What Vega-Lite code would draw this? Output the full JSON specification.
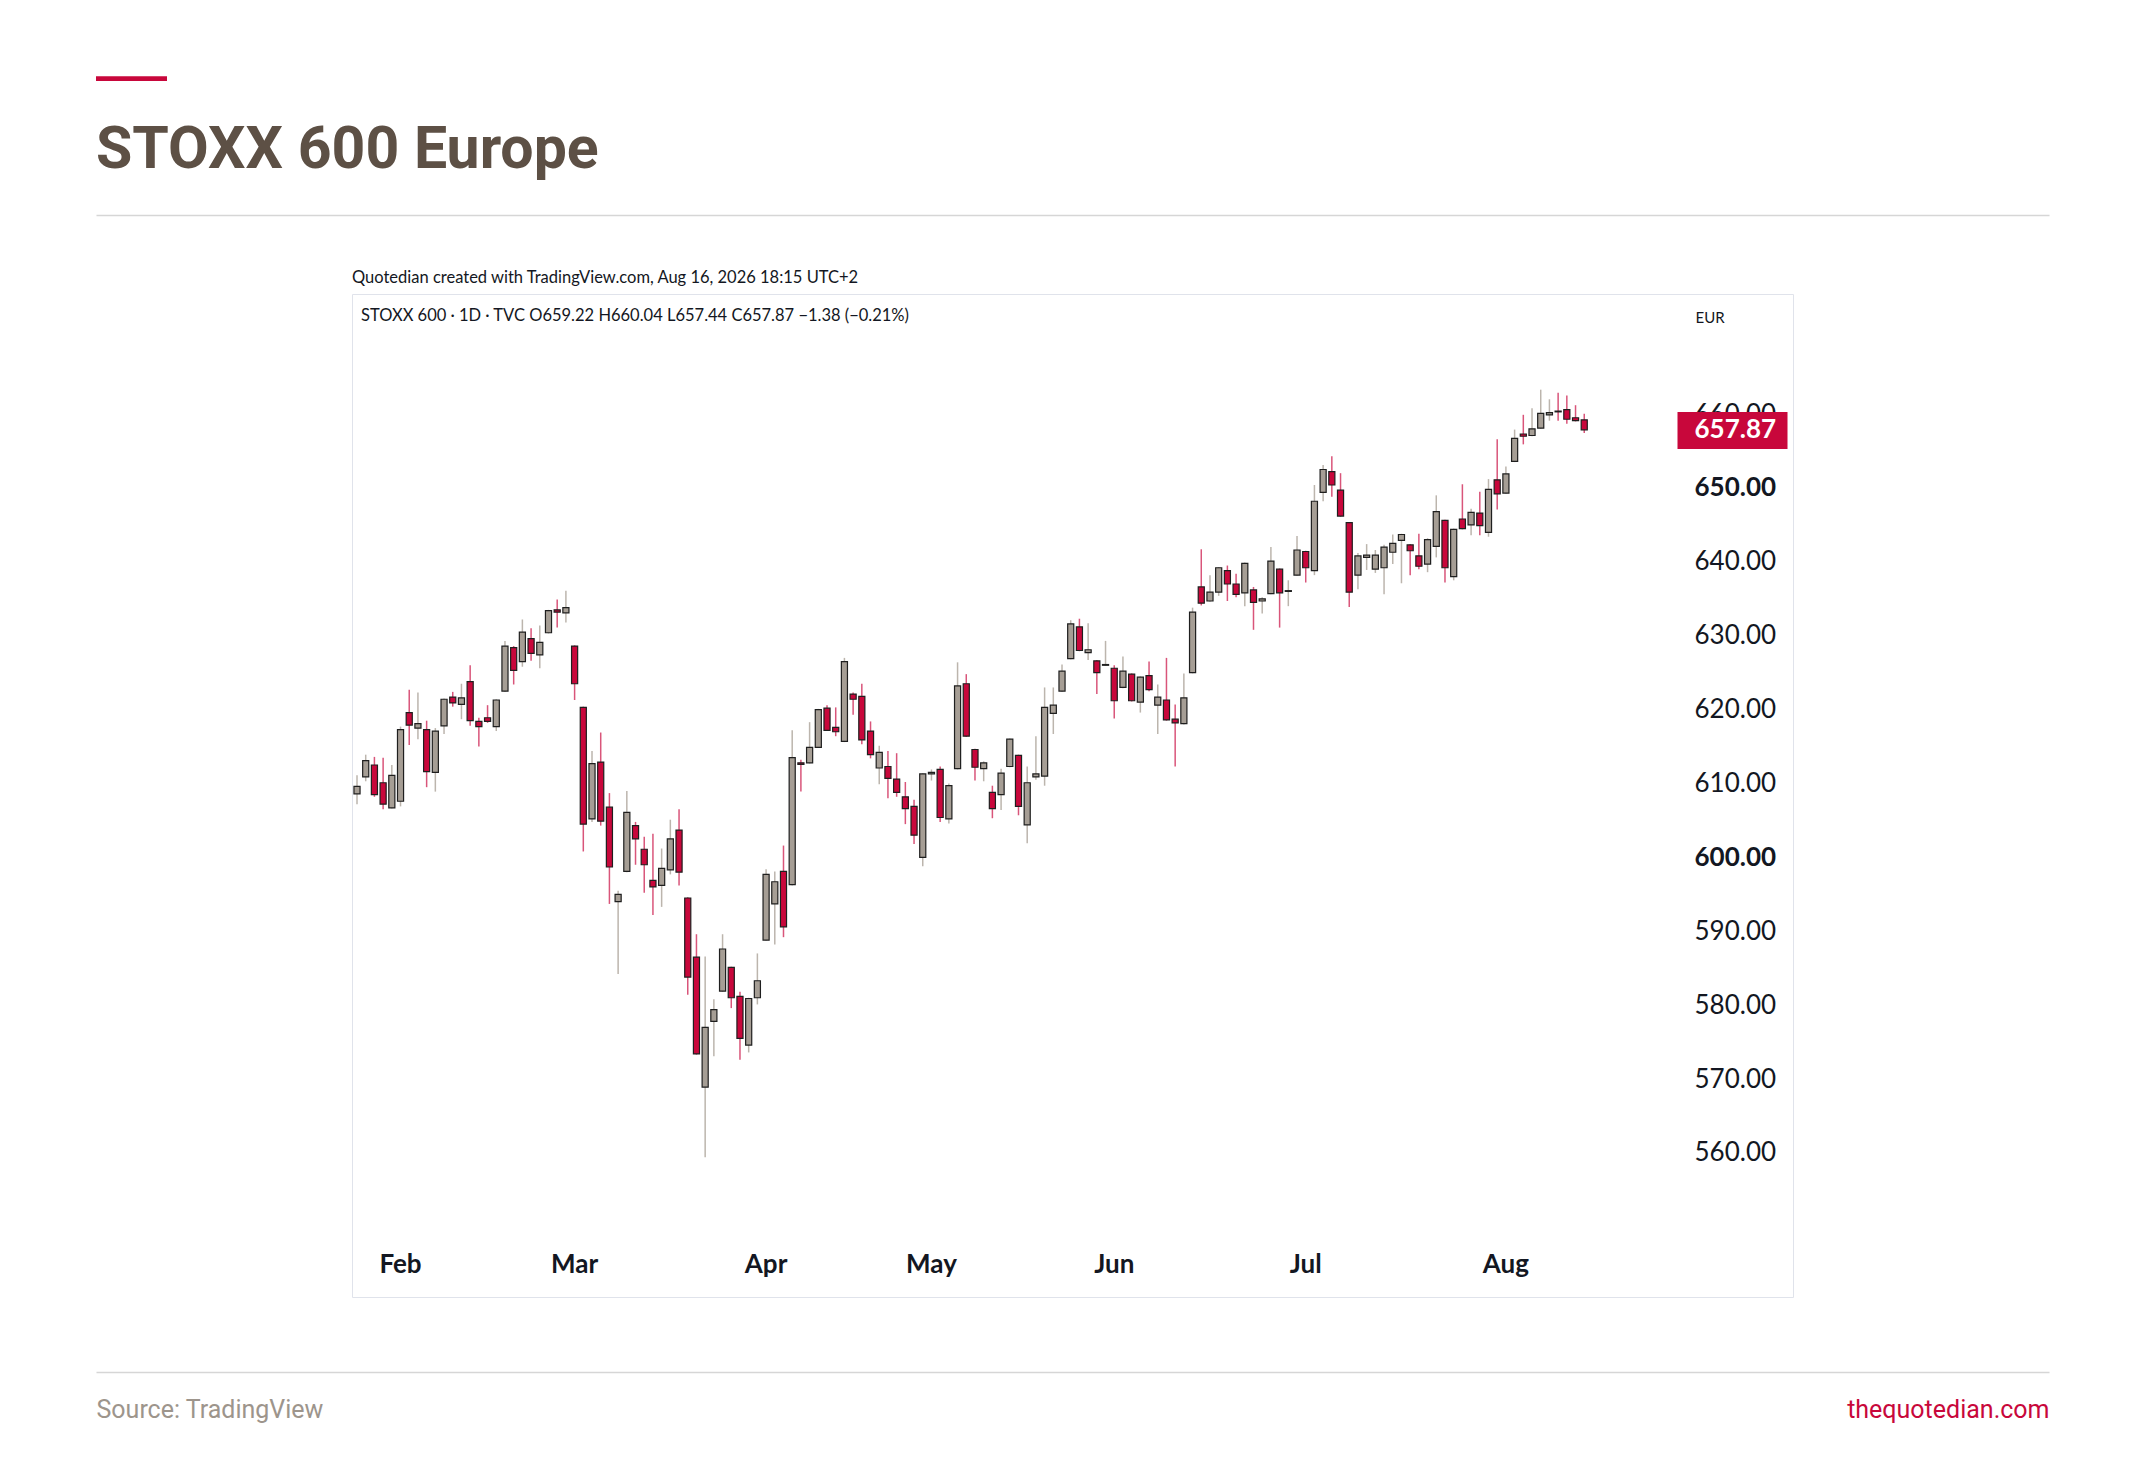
{
"$schema": "https://vega.github.io/schema/vega-lite/v6.json",
"width": 1441,
"height": 1003,
"autosize": {"type": "none"},
"padding": {"left": 352, "top": 294, "right": 352, "bottom": 161},
"background": "white",
"config": {"view": {"stroke": "#e0e3eb", "strokeWidth": 1}, "font": "Lato"},
"title": {"text": "—", "subtitle": "STOXX 600 Europe", "anchor": "start", "frame": "group", "dx": -256, "offset": 34, "font": "Liberation Sans", "fontSize": 71, "fontWeight": "normal", "color": "#c8073b", "subtitleFont": "Roboto", "subtitleFontSize": 59, "subtitleFontWeight": "bold", "subtitleColor": "#5d5045", "subtitlePadding": 9},
"data": {"values": [
{"date":"2026-01-26","open":608.6,"high":611.1,"low":607.2,"close":609.6},
{"date":"2026-01-27","open":610.9,"high":613.9,"low":610.3,"close":613.1},
{"date":"2026-01-28","open":612.5,"high":613.6,"low":608.2,"close":608.5},
{"date":"2026-01-29","open":610.1,"high":613.5,"low":606.5,"close":607.2},
{"date":"2026-01-30","open":606.7,"high":612.5,"low":606.6,"close":611.1},
{"date":"2026-02-02","open":607.6,"high":617.7,"low":606.9,"close":617.3},
{"date":"2026-02-03","open":619.6,"high":622.7,"low":615.2,"close":617.9},
{"date":"2026-02-04","open":617.5,"high":622.3,"low":616.0,"close":618.1},
{"date":"2026-02-05","open":617.3,"high":618.5,"low":609.5,"close":611.6},
{"date":"2026-02-06","open":611.5,"high":617.5,"low":608.9,"close":617.1},
{"date":"2026-02-09","open":617.8,"high":621.5,"low":616.7,"close":621.4},
{"date":"2026-02-10","open":621.7,"high":622.4,"low":620.4,"close":620.9},
{"date":"2026-02-11","open":620.7,"high":623.5,"low":618.7,"close":621.6},
{"date":"2026-02-12","open":623.8,"high":626.0,"low":617.8,"close":618.5},
{"date":"2026-02-13","open":618.4,"high":618.9,"low":615.0,"close":617.7},
{"date":"2026-02-16","open":618.9,"high":620.6,"low":618.2,"close":618.4},
{"date":"2026-02-17","open":617.7,"high":621.4,"low":617.1,"close":621.3},
{"date":"2026-02-18","open":622.5,"high":629.3,"low":622.4,"close":628.6},
{"date":"2026-02-19","open":628.4,"high":628.6,"low":623.4,"close":625.3},
{"date":"2026-02-20","open":626.5,"high":632.2,"low":625.8,"close":630.5},
{"date":"2026-02-23","open":629.6,"high":631.0,"low":626.6,"close":627.6},
{"date":"2026-02-24","open":627.4,"high":631.4,"low":625.6,"close":629.1},
{"date":"2026-02-25","open":630.4,"high":633.5,"low":630.3,"close":633.4},
{"date":"2026-02-26","open":633.5,"high":634.9,"low":631.1,"close":633.2},
{"date":"2026-02-27","open":633.1,"high":636.1,"low":631.8,"close":633.8},
{"date":"2026-03-02","open":628.6,"high":628.7,"low":621.3,"close":623.5},
{"date":"2026-03-03","open":620.3,"high":620.4,"low":600.8,"close":604.5},
{"date":"2026-03-04","open":605.2,"high":614.4,"low":604.8,"close":612.7},
{"date":"2026-03-05","open":612.9,"high":616.9,"low":604.3,"close":604.9},
{"date":"2026-03-06","open":606.8,"high":608.7,"low":593.7,"close":598.7},
{"date":"2026-03-09","open":594.0,"high":595.5,"low":584.2,"close":595.0},
{"date":"2026-03-10","open":598.1,"high":609.0,"low":598.0,"close":606.1},
{"date":"2026-03-11","open":604.3,"high":604.8,"low":599.0,"close":602.5},
{"date":"2026-03-12","open":601.1,"high":602.8,"low":595.2,"close":599.0},
{"date":"2026-03-13","open":596.9,"high":603.2,"low":592.2,"close":596.0},
{"date":"2026-03-16","open":596.2,"high":601.2,"low":593.3,"close":598.5},
{"date":"2026-03-17","open":598.3,"high":605.1,"low":597.7,"close":602.5},
{"date":"2026-03-18","open":603.7,"high":606.5,"low":596.2,"close":598.0},
{"date":"2026-03-19","open":594.5,"high":594.6,"low":581.4,"close":583.8},
{"date":"2026-03-20","open":586.5,"high":589.6,"low":573.3,"close":573.4},
{"date":"2026-03-23","open":568.9,"high":586.6,"low":559.4,"close":577.0},
{"date":"2026-03-24","open":577.8,"high":580.8,"low":573.1,"close":579.4},
{"date":"2026-03-25","open":581.9,"high":589.6,"low":581.8,"close":587.6},
{"date":"2026-03-26","open":585.1,"high":585.2,"low":579.6,"close":581.0},
{"date":"2026-03-27","open":581.2,"high":581.8,"low":572.6,"close":575.5},
{"date":"2026-03-30","open":574.6,"high":581.0,"low":573.6,"close":580.9},
{"date":"2026-03-31","open":581.0,"high":587.0,"low":580.1,"close":583.3},
{"date":"2026-04-01","open":588.8,"high":598.4,"low":588.7,"close":597.7},
{"date":"2026-04-02","open":593.7,"high":598.1,"low":588.2,"close":596.7},
{"date":"2026-04-07","open":598.1,"high":601.6,"low":589.2,"close":590.6},
{"date":"2026-04-08","open":596.3,"high":617.2,"low":596.2,"close":613.5},
{"date":"2026-04-09","open":612.8,"high":613.2,"low":608.9,"close":612.6},
{"date":"2026-04-10","open":612.8,"high":618.3,"low":612.7,"close":614.9},
{"date":"2026-04-13","open":614.9,"high":620.1,"low":614.8,"close":620.0},
{"date":"2026-04-14","open":620.2,"high":620.6,"low":617.1,"close":617.2},
{"date":"2026-04-15","open":617.6,"high":620.3,"low":616.4,"close":617.0},
{"date":"2026-04-16","open":615.7,"high":627.0,"low":615.6,"close":626.5},
{"date":"2026-04-17","open":622.1,"high":622.3,"low":619.3,"close":621.4},
{"date":"2026-04-20","open":621.8,"high":623.5,"low":615.3,"close":615.9},
{"date":"2026-04-21","open":617.1,"high":618.4,"low":613.4,"close":613.9},
{"date":"2026-04-22","open":612.1,"high":615.1,"low":609.9,"close":614.2},
{"date":"2026-04-23","open":612.3,"high":614.4,"low":608.0,"close":610.7},
{"date":"2026-04-24","open":610.6,"high":614.1,"low":608.2,"close":608.8},
{"date":"2026-04-27","open":608.2,"high":610.2,"low":604.5,"close":606.6},
{"date":"2026-04-28","open":606.9,"high":607.8,"low":601.8,"close":603.0},
{"date":"2026-04-29","open":600.0,"high":611.4,"low":598.8,"close":611.3},
{"date":"2026-05-01","open":611.3,"high":611.9,"low":610.4,"close":611.5},
{"date":"2026-05-04","open":611.9,"high":612.3,"low":604.8,"close":605.4},
{"date":"2026-05-05","open":605.2,"high":610.0,"low":604.6,"close":609.7},
{"date":"2026-05-06","open":612.0,"high":626.4,"low":611.9,"close":623.2},
{"date":"2026-05-07","open":623.5,"high":624.8,"low":616.3,"close":616.4},
{"date":"2026-05-08","open":614.6,"high":614.7,"low":610.4,"close":612.2},
{"date":"2026-05-11","open":612.0,"high":613.0,"low":610.3,"close":612.8},
{"date":"2026-05-12","open":608.8,"high":609.7,"low":605.3,"close":606.6},
{"date":"2026-05-13","open":608.5,"high":612.0,"low":606.4,"close":611.4},
{"date":"2026-05-14","open":612.3,"high":616.1,"low":612.2,"close":616.0},
{"date":"2026-05-15","open":613.8,"high":613.9,"low":605.7,"close":606.9},
{"date":"2026-05-18","open":604.4,"high":612.3,"low":601.9,"close":610.1},
{"date":"2026-05-19","open":610.9,"high":616.4,"low":610.5,"close":611.3},
{"date":"2026-05-20","open":611.0,"high":623.0,"low":609.7,"close":620.3},
{"date":"2026-05-21","open":619.5,"high":623.0,"low":616.7,"close":620.6},
{"date":"2026-05-22","open":622.5,"high":626.1,"low":622.4,"close":625.2},
{"date":"2026-05-25","open":626.9,"high":632.1,"low":626.8,"close":631.6},
{"date":"2026-05-26","open":631.2,"high":632.3,"low":627.9,"close":628.0},
{"date":"2026-05-27","open":627.7,"high":631.7,"low":626.7,"close":628.1},
{"date":"2026-05-28","open":626.6,"high":626.7,"low":622.1,"close":625.0},
{"date":"2026-05-29","open":626.0,"high":629.3,"low":625.9,"close":626.1},
{"date":"2026-06-01","open":625.6,"high":626.0,"low":618.8,"close":621.2},
{"date":"2026-06-02","open":623.0,"high":627.2,"low":622.9,"close":625.2},
{"date":"2026-06-03","open":624.8,"high":624.9,"low":621.1,"close":621.2},
{"date":"2026-06-04","open":621.0,"high":624.5,"low":619.6,"close":624.4},
{"date":"2026-06-05","open":624.6,"high":626.5,"low":622.5,"close":622.7},
{"date":"2026-06-08","open":620.6,"high":623.4,"low":616.7,"close":621.7},
{"date":"2026-06-09","open":621.3,"high":627.0,"low":618.5,"close":618.6},
{"date":"2026-06-10","open":618.7,"high":620.7,"low":612.3,"close":618.2},
{"date":"2026-06-11","open":618.1,"high":624.9,"low":618.0,"close":621.6},
{"date":"2026-06-12","open":625.0,"high":633.8,"low":624.9,"close":633.2},
{"date":"2026-06-15","open":636.6,"high":641.7,"low":634.1,"close":634.4},
{"date":"2026-06-16","open":634.7,"high":638.2,"low":634.6,"close":635.9},
{"date":"2026-06-17","open":635.9,"high":639.3,"low":635.4,"close":639.2},
{"date":"2026-06-18","open":638.8,"high":639.5,"low":634.7,"close":637.0},
{"date":"2026-06-19","open":637.0,"high":638.4,"low":635.2,"close":635.6},
{"date":"2026-06-22","open":635.8,"high":639.9,"low":634.0,"close":639.8},
{"date":"2026-06-23","open":636.2,"high":636.6,"low":630.8,"close":634.5},
{"date":"2026-06-24","open":634.7,"high":635.2,"low":633.0,"close":635.0},
{"date":"2026-06-25","open":635.7,"high":642.0,"low":635.6,"close":640.1},
{"date":"2026-06-26","open":639.0,"high":639.1,"low":631.1,"close":635.8},
{"date":"2026-06-29","open":636.0,"high":637.5,"low":634.0,"close":636.1},
{"date":"2026-06-30","open":638.2,"high":643.5,"low":638.1,"close":641.6},
{"date":"2026-07-01","open":641.4,"high":641.5,"low":637.2,"close":639.2},
{"date":"2026-07-02","open":638.8,"high":650.4,"low":638.2,"close":648.2},
{"date":"2026-07-03","open":649.4,"high":653.1,"low":648.2,"close":652.5},
{"date":"2026-07-06","open":652.2,"high":654.3,"low":648.8,"close":650.4},
{"date":"2026-07-07","open":649.7,"high":652.0,"low":646.1,"close":646.2},
{"date":"2026-07-08","open":645.3,"high":645.4,"low":633.9,"close":635.9},
{"date":"2026-07-09","open":638.2,"high":641.2,"low":636.3,"close":640.8},
{"date":"2026-07-10","open":640.6,"high":642.4,"low":638.9,"close":640.9},
{"date":"2026-07-13","open":639.0,"high":641.6,"low":638.5,"close":640.9},
{"date":"2026-07-14","open":639.2,"high":642.3,"low":635.6,"close":642.0},
{"date":"2026-07-15","open":641.3,"high":643.7,"low":639.7,"close":642.5},
{"date":"2026-07-16","open":642.9,"high":643.8,"low":637.1,"close":643.7},
{"date":"2026-07-17","open":642.3,"high":642.4,"low":638.2,"close":641.5},
{"date":"2026-07-20","open":640.8,"high":643.8,"low":639.0,"close":639.4},
{"date":"2026-07-21","open":639.7,"high":643.2,"low":638.6,"close":643.0},
{"date":"2026-07-22","open":642.1,"high":649.0,"low":640.6,"close":646.8},
{"date":"2026-07-23","open":645.6,"high":645.7,"low":637.2,"close":639.2},
{"date":"2026-07-24","open":638.0,"high":644.5,"low":637.5,"close":644.4},
{"date":"2026-07-27","open":645.8,"high":650.5,"low":644.4,"close":644.5},
{"date":"2026-07-28","open":645.0,"high":647.2,"low":643.6,"close":646.7},
{"date":"2026-07-29","open":646.6,"high":649.5,"low":643.6,"close":644.9},
{"date":"2026-07-30","open":644.0,"high":651.2,"low":643.4,"close":649.8},
{"date":"2026-07-31","open":651.1,"high":656.6,"low":647.1,"close":649.2},
{"date":"2026-08-03","open":649.3,"high":652.9,"low":649.2,"close":651.9},
{"date":"2026-08-04","open":653.6,"high":657.9,"low":653.5,"close":656.7},
{"date":"2026-08-05","open":657.3,"high":659.9,"low":655.9,"close":657.0},
{"date":"2026-08-06","open":657.1,"high":660.8,"low":657.0,"close":658.0},
{"date":"2026-08-07","open":658.1,"high":663.3,"low":658.0,"close":660.1},
{"date":"2026-08-10","open":659.9,"high":662.0,"low":659.1,"close":660.2},
{"date":"2026-08-11","open":660.4,"high":662.9,"low":659.1,"close":660.3},
{"date":"2026-08-12","open":660.6,"high":662.5,"low":658.7,"close":659.3},
{"date":"2026-08-13","open":659.5,"high":661.2,"low":659.0,"close":659.1},
{"date":"2026-08-14","open":659.22,"high":660.04,"low":657.44,"close":657.87}
]},
"layer": [
{
"layer": [
{
"mark": {"type": "rule", "strokeWidth": 1.5},
"encoding": {
"x": {"field": "date", "type": "ordinal", "axis": null,
"scale": {"type": "band", "paddingInner": 0.3, "paddingOuter": 0.43, "align": 0.262,
"domain": ["2026-01-26","2026-01-27","2026-01-28","2026-01-29","2026-01-30","2026-02-02","2026-02-03","2026-02-04","2026-02-05","2026-02-06","2026-02-09","2026-02-10","2026-02-11","2026-02-12","2026-02-13","2026-02-16","2026-02-17","2026-02-18","2026-02-19","2026-02-20","2026-02-23","2026-02-24","2026-02-25","2026-02-26","2026-02-27","2026-03-02","2026-03-03","2026-03-04","2026-03-05","2026-03-06","2026-03-09","2026-03-10","2026-03-11","2026-03-12","2026-03-13","2026-03-16","2026-03-17","2026-03-18","2026-03-19","2026-03-20","2026-03-23","2026-03-24","2026-03-25","2026-03-26","2026-03-27","2026-03-30","2026-03-31","2026-04-01","2026-04-02","2026-04-07","2026-04-08","2026-04-09","2026-04-10","2026-04-13","2026-04-14","2026-04-15","2026-04-16","2026-04-17","2026-04-20","2026-04-21","2026-04-22","2026-04-23","2026-04-24","2026-04-27","2026-04-28","2026-04-29","2026-05-01","2026-05-04","2026-05-05","2026-05-06","2026-05-07","2026-05-08","2026-05-11","2026-05-12","2026-05-13","2026-05-14","2026-05-15","2026-05-18","2026-05-19","2026-05-20","2026-05-21","2026-05-22","2026-05-25","2026-05-26","2026-05-27","2026-05-28","2026-05-29","2026-06-01","2026-06-02","2026-06-03","2026-06-04","2026-06-05","2026-06-08","2026-06-09","2026-06-10","2026-06-11","2026-06-12","2026-06-15","2026-06-16","2026-06-17","2026-06-18","2026-06-19","2026-06-22","2026-06-23","2026-06-24","2026-06-25","2026-06-26","2026-06-29","2026-06-30","2026-07-01","2026-07-02","2026-07-03","2026-07-06","2026-07-07","2026-07-08","2026-07-09","2026-07-10","2026-07-13","2026-07-14","2026-07-15","2026-07-16","2026-07-17","2026-07-20","2026-07-21","2026-07-22","2026-07-23","2026-07-24","2026-07-27","2026-07-28","2026-07-29","2026-07-30","2026-07-31","2026-08-03","2026-08-04","2026-08-05","2026-08-06","2026-08-07","2026-08-10","2026-08-11","2026-08-12","2026-08-13","2026-08-14","2026-08-17","2026-08-18","2026-08-19","2026-08-20","2026-08-21","2026-08-24","2026-08-25","2026-08-26","2026-08-27","2026-08-28","2026-08-31","2026-09-01","2026-09-02","2026-09-03","2026-09-04","2026-09-07","2026-09-08","2026-09-09","2026-09-10","2026-09-11","2026-09-14","2026-09-15","2026-09-16"]}},
"y": {"field": "low", "type": "quantitative", "scale": {"domain": [540.5, 676.25], "zero": false, "nice": false},
"axis": {"orient": "left", "domain": false, "ticks": false, "labels": false, "grid": false,
"title": "thequotedian.com", "titleX": 1697, "titleY": 1115, "titleAngle": 0, "titleAlign": "right", "titleBaseline": "middle", "titleFont": "Roboto", "titleFontSize": 25, "titleFontWeight": "normal", "titleColor": "#c8073b"}},
"y2": {"field": "high"},
"color": {"condition": {"test": "datum.close < datum.open", "value": "#d9557a"}, "value": "#bcb5ad"}
}
},
{
"data": {"values": []},
"mark": {"type": "rule"},
"encoding": {
"y": {"field": "low", "type": "quantitative",
"axis": {"orient": "right", "offset": -116, "domain": false, "grid": false, "ticks": false, "tickSize": 0,
"values": [660], "labelPadding": 17, "labelAlign": "left", "labelBaseline": "middle", "labelOverlap": false, "labelFlush": false,
"labelExpr": "format(datum.value, '.2f')", "labelFont": "Lato", "labelFontSize": 26, "labelColor": "#131722", "title": null}}
}
},
{
"mark": {"type": "bar", "stroke": "#1f1f1f", "strokeWidth": 1.2},
"encoding": {
"x": {"field": "date", "type": "ordinal",
"axis": {"orient": "bottom", "offset": 75, "domain": false, "ticks": false, "tickSize": 0, "grid": false,
"labelPadding": -108, "labelBaseline": "middle", "labelAngle": 0, "labelFont": "Lato", "labelFontSize": 26, "labelFontWeight": "bold", "labelColor": "#131722", "labelOverlap": false,
"labelExpr": "indexof(['2026-02-02','2026-03-02','2026-04-01','2026-05-01','2026-06-01','2026-07-01','2026-08-03'], datum.value) >= 0 ? ['Jan','Feb','Mar','Apr','May','Jun','Jul','Aug','Sep','Oct','Nov','Dec'][toNumber(substring(datum.value, 5, 7)) - 1] : ''",
"title": "Source: TradingView", "titleX": -256, "titleY": 37, "titleAlign": "left", "titleAnchor": "start", "titleBaseline": "middle", "titleAngle": 0, "titleFont": "Roboto", "titleFontSize": 25, "titleFontWeight": "normal", "titleColor": "#9d958c"}},
"y": {"field": "open", "type": "quantitative",
"axis": {"orient": "right", "offset": -116, "domain": false, "grid": false,
"values": [560, 570, 580, 590, 600, 610, 620, 630, 640, 650, 657.87],
"ticks": true, "tickSize": 110,
"tickWidth": {"condition": {"test": "datum.value > 657 && datum.value < 658", "value": 37}, "value": 0},
"tickColor": "#c8073b",
"labelPadding": -93, "labelAlign": "left", "labelBaseline": "middle", "labelOverlap": false, "labelFlush": false,
"labelExpr": "format(datum.value, '.2f')",
"labelFont": "Lato", "labelFontSize": 26,
"labelFontWeight": {"condition": {"test": "datum.value == 650 || datum.value == 600 || (datum.value > 657 && datum.value < 658)", "value": "bold"}, "value": "normal"},
"labelColor": {"condition": {"test": "datum.value > 657 && datum.value < 658", "value": "#ffffff"}, "value": "#131722"},
"title": "EUR", "titleX": 18, "titleY": 23, "titleAngle": 0, "titleAlign": "left", "titleBaseline": "middle", "titleFont": "Lato", "titleFontSize": 15, "titleFontWeight": "normal", "titleColor": "#131722"}},
"y2": {"field": "close"},
"fill": {"condition": {"test": "datum.close < datum.open", "value": "#c8073b"}, "value": "#a69e95"}
}
}
],
"resolve": {"axis": {"x": "independent", "y": "independent"}}
},
{
"data": {"values": [{"label": "Quotedian created with TradingView.com, Aug 16, 2026 18:15 UTC+2"}]},
"mark": {"type": "text", "align": "left", "baseline": "middle", "fontSize": 16.5, "font": "Lato", "color": "#131722"},
"encoding": {
"x": {"datum": 0.13108, "type": "quantitative", "scale": {"domain": [0, 1], "range": [-256, 1697]},
"axis": {"orient": "top", "offset": 79, "domain": true, "domainColor": "#d6d6d6", "domainWidth": 1.5, "ticks": false, "labels": false, "grid": false, "title": null}},
"y": {"datum": 678.42, "type": "quantitative", "axis": null},
"text": {"field": "label"}
}
},
{
"data": {"values": [{"label": "STOXX 600 · 1D · TVC  O659.22  H660.04  L657.44  C657.87  −1.38 (−0.21%)"}]},
"mark": {"type": "text", "align": "left", "baseline": "middle", "fontSize": 16.5, "font": "Lato", "color": "#131722"},
"encoding": {
"x": {"datum": 0.13569, "type": "quantitative", "scale": {"domain": [0, 1], "range": [-256, 1697]},
"axis": {"orient": "bottom", "offset": 75, "domain": true, "domainColor": "#d6d6d6", "domainWidth": 1.5, "ticks": false, "labels": false, "grid": false, "title": null}},
"y": {"datum": 673.27, "type": "quantitative", "axis": null},
"text": {"field": "label"}
}
}
],
"resolve": {"scale": {"x": "independent"}, "axis": {"x": "independent", "y": "independent"}}
}
